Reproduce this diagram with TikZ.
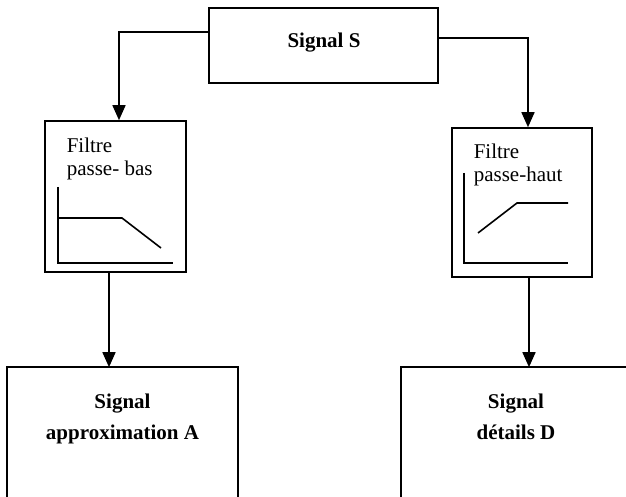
\documentclass[tikz,border=0pt]{standalone}
\usepackage{fontspec}
\setmainfont{Liberation Serif}
\usetikzlibrary{arrows.meta,calc}

\begin{document}
\begin{tikzpicture}[x=1pt,y=-1pt,every path/.style={line width=1.6pt},
    bloc/.style={draw,inner sep=0pt},
    fleche/.style={-{Triangle[length=15pt,width=13pt]}},
    gras/.style={font=\fontsize{21}{31}\selectfont\bfseries,align=center,inner sep=0pt},
    fin/.style={font=\fontsize{21}{23}\selectfont,align=left,inner sep=0pt}]
    \useasboundingbox (0,0) rectangle (626,497);
    \node[bloc,minimum width=229pt,minimum height=75pt] (sig) at (323.5,45.5) {};
    \node[gras,anchor=base] (sigtxt) at (324,48) {Signal S};
    \node[bloc,minimum width=141pt,minimum height=151pt] (lp) at (115.5,196.5) {};
    \node[fin,anchor=north west] (lptxt) at (66,137.5) {Filtre\\passe- bas};
    \node[bloc,minimum width=140pt,minimum height=149pt] (hp) at (522,202.5) {};
    \node[fin,anchor=north west] (hptxt) at (473,143.5) {Filtre\\passe-haut};
    \draw (58,187) -- (58,263) -- (173,263);
    \draw (58,218) -- (122,218) -- (161,248);
    \draw (464,173) -- (464,263) -- (568,263);
    \draw (478,233) -- (517,203) -- (568,203);
    \node[inner sep=0pt,minimum width=229pt,minimum height=129pt] (appr) at (122.5,432.5) {};
    \draw (appr.south west) |- (appr.north east) -- (appr.south east);
    \node[gras,anchor=north] (apprtxt) at (122.5,393.5) {Signal\\approximation A};
    \node[inner sep=0pt,minimum width=228pt,minimum height=129pt] (det) at (516,432.5) {};
    \draw (det.south west) |- (det.north east) -- (det.south east);
    \node[gras,anchor=north] (dettxt) at (516,393.5) {Signal\\détails D};
    \draw[fleche] ([yshift=13.5pt]sig.west) -| ([xshift=3.5pt]lp.north);
    \draw[fleche] ([yshift=7.5pt]sig.east) -| ([xshift=6pt]hp.north);
    \coordinate (a1) at ([xshift=-6.5pt]lp.south);
    \coordinate (a2) at ([xshift=7pt]hp.south);
    \draw[fleche] (a1) -- (a1 |- appr.north);
    \draw[fleche] (a2) -- (a2 |- det.north);
\end{tikzpicture}
\end{document}
